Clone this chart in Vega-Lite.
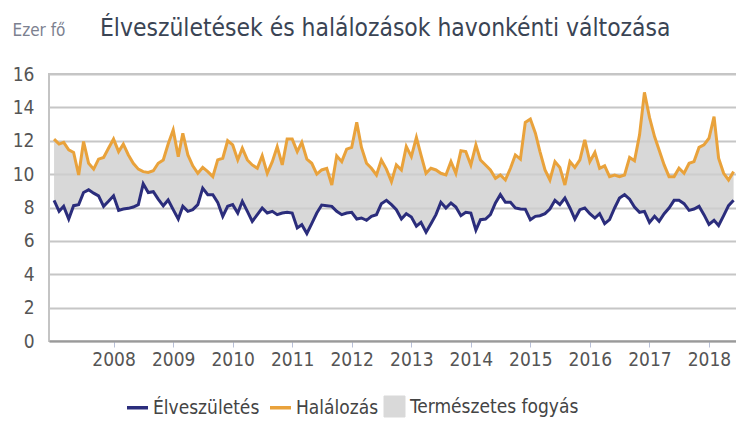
{
  "$schema": "https://vega.github.io/schema/vega-lite/v6.json",
  "width": 689,
  "height": 267,
  "autosize": "none",
  "padding": {"left": 49, "top": 74, "right": 0, "bottom": 85},
  "background": "white",
  "config": {
    "font": "DejaVu Sans Condensed, Liberation Sans Narrow, Roboto, sans-serif",
    "view": {"stroke": "#c4c4c4", "strokeWidth": 2},
    "axis": {"labelFont": "DejaVu Sans Condensed, Liberation Sans Narrow, Roboto, sans-serif", "labelColor": "#555555", "labelFontSize": 19}
  },
  "title": {
    "text": "Élveszületések és halálozások havonkénti változása",
    "anchor": "start",
    "dx": 88,
    "offset": 0,
    "dy": 20,
    "fontSize": 24.4,
    "fontWeight": "normal",
    "color": "#3a4454",
    "font": "DejaVu Sans Condensed, Liberation Sans Narrow, Roboto, sans-serif"
  },
  "data": {
    "values": [
      {"d":"2007-01-01","Élveszületés":8.43,"Halálozás":12.1},
      {"d":"2007-02-01","Élveszületés":7.77,"Halálozás":11.8},
      {"d":"2007-03-01","Élveszületés":8.07,"Halálozás":11.9},
      {"d":"2007-04-01","Élveszületés":7.31,"Halálozás":11.45},
      {"d":"2007-05-01","Élveszületés":8.11,"Halálozás":11.3},
      {"d":"2007-06-01","Élveszületés":8.17,"Halálozás":9.95},
      {"d":"2007-07-01","Élveszületés":8.9,"Halálozás":11.95},
      {"d":"2007-08-01","Élveszületés":9.06,"Halálozás":10.65},
      {"d":"2007-09-01","Élveszületés":8.86,"Halálozás":10.3},
      {"d":"2007-10-01","Élveszületés":8.7,"Halálozás":10.9},
      {"d":"2007-11-01","Élveszületés":8.07,"Halálozás":11.0},
      {"d":"2007-12-01","Élveszületés":8.37,"Halálozás":11.55},
      {"d":"2008-01-01","Élveszületés":8.7,"Halálozás":12.1},
      {"d":"2008-02-01","Élveszületés":7.83,"Halálozás":11.35},
      {"d":"2008-03-01","Élveszületés":7.91,"Halálozás":11.8},
      {"d":"2008-04-01","Élveszületés":7.95,"Halálozás":11.15},
      {"d":"2008-05-01","Élveszületés":8.03,"Halálozás":10.65},
      {"d":"2008-06-01","Élveszületés":8.17,"Halálozás":10.3},
      {"d":"2008-07-01","Élveszületés":9.42,"Halálozás":10.15},
      {"d":"2008-08-01","Élveszületés":8.9,"Halálozás":10.1},
      {"d":"2008-09-01","Élveszületés":8.95,"Halálozás":10.2},
      {"d":"2008-10-01","Élveszületés":8.5,"Halálozás":10.65},
      {"d":"2008-11-01","Élveszületés":8.1,"Halálozás":10.85},
      {"d":"2008-12-01","Élveszületés":8.45,"Halálozás":11.8},
      {"d":"2009-01-01","Élveszületés":7.87,"Halálozás":12.65},
      {"d":"2009-02-01","Élveszületés":7.31,"Halálozás":11.05},
      {"d":"2009-03-01","Élveszületés":8.07,"Halálozás":12.45},
      {"d":"2009-04-01","Élveszületés":7.77,"Halálozás":11.15},
      {"d":"2009-05-01","Élveszületés":7.87,"Halálozás":10.5},
      {"d":"2009-06-01","Élveszületés":8.17,"Halálozás":10.05},
      {"d":"2009-07-01","Élveszületés":9.16,"Halálozás":10.4},
      {"d":"2009-08-01","Élveszületés":8.77,"Halálozás":10.15},
      {"d":"2009-09-01","Élveszületés":8.77,"Halálozás":9.85},
      {"d":"2009-10-01","Élveszületés":8.31,"Halálozás":10.85},
      {"d":"2009-11-01","Élveszületés":7.47,"Halálozás":10.95},
      {"d":"2009-12-01","Élveszületés":8.07,"Halálozás":12.0},
      {"d":"2010-01-01","Élveszületés":8.17,"Halálozás":11.75},
      {"d":"2010-02-01","Élveszületés":7.67,"Halálozás":10.85},
      {"d":"2010-03-01","Élveszületés":8.37,"Halálozás":11.55},
      {"d":"2010-04-01","Élveszületés":7.77,"Halálozás":10.85},
      {"d":"2010-05-01","Élveszületés":7.17,"Halálozás":10.55},
      {"d":"2010-06-01","Élveszületés":7.57,"Halálozás":10.35},
      {"d":"2010-07-01","Élveszületés":7.97,"Halálozás":11.1},
      {"d":"2010-08-01","Élveszületés":7.67,"Halálozás":10.05},
      {"d":"2010-09-01","Élveszületés":7.77,"Halálozás":10.75},
      {"d":"2010-10-01","Élveszületés":7.57,"Halálozás":11.65},
      {"d":"2010-11-01","Élveszületés":7.67,"Halálozás":10.55},
      {"d":"2010-12-01","Élveszületés":7.71,"Halálozás":12.1},
      {"d":"2011-01-01","Élveszületés":7.67,"Halálozás":12.1},
      {"d":"2011-02-01","Élveszületés":6.78,"Halálozás":11.35},
      {"d":"2011-03-01","Élveszületés":6.97,"Halálozás":11.9},
      {"d":"2011-04-01","Élveszületés":6.44,"Halálozás":10.9},
      {"d":"2011-05-01","Élveszületés":7.03,"Halálozás":10.65},
      {"d":"2011-06-01","Élveszületés":7.67,"Halálozás":10.0},
      {"d":"2011-07-01","Élveszületés":8.15,"Halálozás":10.25},
      {"d":"2011-08-01","Élveszületés":8.11,"Halálozás":10.35},
      {"d":"2011-09-01","Élveszületés":8.07,"Halálozás":9.35},
      {"d":"2011-10-01","Élveszületés":7.77,"Halálozás":11.1},
      {"d":"2011-11-01","Élveszületés":7.57,"Halálozás":10.75},
      {"d":"2011-12-01","Élveszületés":7.67,"Halálozás":11.5},
      {"d":"2012-01-01","Élveszületés":7.71,"Halálozás":11.6},
      {"d":"2012-02-01","Élveszületés":7.31,"Halálozás":13.1},
      {"d":"2012-03-01","Élveszületés":7.37,"Halálozás":11.6},
      {"d":"2012-04-01","Élveszületés":7.23,"Halálozás":10.65},
      {"d":"2012-05-01","Élveszületés":7.47,"Halálozás":10.35},
      {"d":"2012-06-01","Élveszületés":7.57,"Halálozás":9.95},
      {"d":"2012-07-01","Élveszületés":8.23,"Halálozás":10.85},
      {"d":"2012-08-01","Élveszületés":8.43,"Halálozás":10.3},
      {"d":"2012-09-01","Élveszületés":8.17,"Halálozás":9.55},
      {"d":"2012-10-01","Élveszületés":7.87,"Halálozás":10.55},
      {"d":"2012-11-01","Élveszületés":7.31,"Halálozás":10.25},
      {"d":"2012-12-01","Élveszületés":7.63,"Halálozás":11.65},
      {"d":"2013-01-01","Élveszületés":7.43,"Halálozás":11.05},
      {"d":"2013-02-01","Élveszületés":6.88,"Halálozás":12.2},
      {"d":"2013-03-01","Élveszületés":7.11,"Halálozás":11.15},
      {"d":"2013-04-01","Élveszületés":6.52,"Halálozás":10.05},
      {"d":"2013-05-01","Élveszületés":7.03,"Halálozás":10.35},
      {"d":"2013-06-01","Élveszületés":7.57,"Halálozás":10.25},
      {"d":"2013-07-01","Élveszületés":8.31,"Halálozás":10.05},
      {"d":"2013-08-01","Élveszületés":7.97,"Halálozás":9.95},
      {"d":"2013-09-01","Élveszületés":8.27,"Halálozás":10.75},
      {"d":"2013-10-01","Élveszületés":8.03,"Halálozás":10.05},
      {"d":"2013-11-01","Élveszületés":7.51,"Halálozás":11.4},
      {"d":"2013-12-01","Élveszületés":7.71,"Halálozás":11.35},
      {"d":"2014-01-01","Élveszületés":7.67,"Halálozás":10.55},
      {"d":"2014-02-01","Élveszületés":6.64,"Halálozás":11.75},
      {"d":"2014-03-01","Élveszületés":7.27,"Halálozás":10.85},
      {"d":"2014-04-01","Élveszületés":7.31,"Halálozás":10.55},
      {"d":"2014-05-01","Élveszületés":7.57,"Halálozás":10.25},
      {"d":"2014-06-01","Élveszületés":8.27,"Halálozás":9.75},
      {"d":"2014-07-01","Élveszületés":8.77,"Halálozás":9.95},
      {"d":"2014-08-01","Élveszületés":8.31,"Halálozás":9.65},
      {"d":"2014-09-01","Élveszületés":8.31,"Halálozás":10.35},
      {"d":"2014-10-01","Élveszületés":7.97,"Halálozás":11.15},
      {"d":"2014-11-01","Élveszületés":7.91,"Halálozás":10.9},
      {"d":"2014-12-01","Élveszületés":7.9,"Halálozás":13.1},
      {"d":"2015-01-01","Élveszületés":7.27,"Halálozás":13.3},
      {"d":"2015-02-01","Élveszületés":7.47,"Halálozás":12.45},
      {"d":"2015-03-01","Élveszületés":7.51,"Halálozás":11.35},
      {"d":"2015-04-01","Élveszületés":7.63,"Halálozás":10.25},
      {"d":"2015-05-01","Élveszületés":7.91,"Halálozás":9.65},
      {"d":"2015-06-01","Élveszületés":8.43,"Halálozás":10.75},
      {"d":"2015-07-01","Élveszületés":8.17,"Halálozás":10.4},
      {"d":"2015-08-01","Élveszületés":8.57,"Halálozás":9.35},
      {"d":"2015-09-01","Élveszületés":7.97,"Halálozás":10.75},
      {"d":"2015-10-01","Élveszületés":7.31,"Halálozás":10.4},
      {"d":"2015-11-01","Élveszületés":7.87,"Halálozás":10.85},
      {"d":"2015-12-01","Élveszületés":7.97,"Halálozás":12.05},
      {"d":"2016-01-01","Élveszületés":7.63,"Halálozás":10.75},
      {"d":"2016-02-01","Élveszületés":7.37,"Halálozás":11.3},
      {"d":"2016-03-01","Élveszületés":7.63,"Halálozás":10.35},
      {"d":"2016-04-01","Élveszületés":7.03,"Halálozás":10.5},
      {"d":"2016-05-01","Élveszületés":7.27,"Halálozás":9.85},
      {"d":"2016-06-01","Élveszületés":7.97,"Halálozás":9.95},
      {"d":"2016-07-01","Élveszületés":8.57,"Halálozás":9.85},
      {"d":"2016-08-01","Élveszületés":8.77,"Halálozás":9.95},
      {"d":"2016-09-01","Élveszületés":8.5,"Halálozás":11.0},
      {"d":"2016-10-01","Élveszületés":8.03,"Halálozás":10.8},
      {"d":"2016-11-01","Élveszületés":7.71,"Halálozás":12.35},
      {"d":"2016-12-01","Élveszületés":7.77,"Halálozás":14.9},
      {"d":"2017-01-01","Élveszületés":7.11,"Halálozás":13.4},
      {"d":"2017-02-01","Élveszületés":7.47,"Halálozás":12.25},
      {"d":"2017-03-01","Élveszületés":7.17,"Halálozás":11.45},
      {"d":"2017-04-01","Élveszületés":7.63,"Halálozás":10.55},
      {"d":"2017-05-01","Élveszületés":7.97,"Halálozás":9.85},
      {"d":"2017-06-01","Élveszületés":8.43,"Halálozás":9.85},
      {"d":"2017-07-01","Élveszületés":8.43,"Halálozás":10.35},
      {"d":"2017-08-01","Élveszületés":8.23,"Halálozás":10.05},
      {"d":"2017-09-01","Élveszületés":7.83,"Halálozás":10.65},
      {"d":"2017-10-01","Élveszületés":7.91,"Halálozás":10.75},
      {"d":"2017-11-01","Élveszületés":8.07,"Halálozás":11.6},
      {"d":"2017-12-01","Élveszületés":7.57,"Halálozás":11.75},
      {"d":"2018-01-01","Élveszületés":6.98,"Halálozás":12.15},
      {"d":"2018-02-01","Élveszületés":7.23,"Halálozás":13.45},
      {"d":"2018-03-01","Élveszületés":6.92,"Halálozás":10.95},
      {"d":"2018-04-01","Élveszületés":7.51,"Halálozás":10.05},
      {"d":"2018-05-01","Élveszületés":8.11,"Halálozás":9.65},
      {"d":"2018-06-01","Élveszületés":8.43,"Halálozás":10.15}
    ]
  },
  "encoding": {
    "x": {
      "field": "d",
      "type": "temporal",
      "scale": {
        "type": "utc",
        "domain": [
          {"year": 2006, "month": 12, "date": 1, "utc": true},
          {"year": 2018, "month": 6, "date": 28, "utc": true}
        ]
      },
      "axis": {
        "title": null,
        "values": [
          {"year": 2008, "month": 1, "date": 1, "utc": true},
          {"year": 2009, "month": 1, "date": 1, "utc": true},
          {"year": 2010, "month": 1, "date": 1, "utc": true},
          {"year": 2011, "month": 1, "date": 1, "utc": true},
          {"year": 2012, "month": 1, "date": 1, "utc": true},
          {"year": 2013, "month": 1, "date": 1, "utc": true},
          {"year": 2014, "month": 1, "date": 1, "utc": true},
          {"year": 2015, "month": 1, "date": 1, "utc": true},
          {"year": 2016, "month": 1, "date": 1, "utc": true},
          {"year": 2017, "month": 1, "date": 1, "utc": true},
          {"year": 2018, "month": 1, "date": 1, "utc": true}
        ],
        "tickCount": 30,
        "format": "%Y",
        "formatType": "utc",
        "grid": false,
        "domainColor": "#9a9a9a",
        "domainWidth": 2,
        "tickColor": "#b8c0d8",
        "tickSize": 6,
        "tickWidth": 1,
        "labelPadding": 3,
        "labelFlush": false,
        "labelOverlap": false
      }
    }
  },
  "layer": [
    {
      "mark": {"type": "area", "color": "#cecece", "opacity": 0.8},
      "encoding": {
        "y": {
          "field": "Halálozás",
          "type": "quantitative",
          "scale": {"domain": [0, 16], "nice": false},
          "axis": {
            "title": "Ezer fő",
            "titleAngle": 0,
            "titleX": -37,
            "titleY": -44,
            "titleAlign": "left",
            "titleBaseline": "middle",
            "titleFontSize": 17,
            "titleFontWeight": "normal",
            "titleColor": "#7c8190",
            "titleFont": "DejaVu Sans Condensed, Liberation Sans Narrow, Roboto, sans-serif",
            "values": [0, 2, 4, 6, 8, 10, 12, 14, 16],
            "tickCount": 20,
            "labelOverlap": false,
            "gridColor": "#c6c6c6",
            "gridWidth": 2,
            "domain": false,
            "ticks": false,
            "labelPadding": 15
          }
        },
        "y2": {"field": "Élveszületés"}
      }
    },
    {
      "transform": [
        {"fold": ["Élveszületés", "Halálozás"], "as": ["series", "v"]}
      ],
      "mark": {"type": "line", "strokeWidth": 3, "interpolate": "linear"},
      "encoding": {
        "y": {
          "field": "v",
          "type": "quantitative",
          "axis": {
            "title": "Ezer fő",
            "titleAngle": 0,
            "titleX": -37,
            "titleY": -44,
            "titleAlign": "left",
            "titleBaseline": "middle",
            "titleFontSize": 17,
            "titleFontWeight": "normal",
            "titleColor": "#7c8190",
            "titleFont": "DejaVu Sans Condensed, Liberation Sans Narrow, Roboto, sans-serif",
            "values": [0, 2, 4, 6, 8, 10, 12, 14, 16],
            "tickCount": 20,
            "labelOverlap": false,
            "gridColor": "#c6c6c6",
            "gridWidth": 2,
            "domain": false,
            "ticks": false,
            "labelPadding": 15
          }
        },
        "color": {
          "field": "series",
          "type": "nominal",
          "scale": {
            "domain": ["Élveszületés", "Halálozás", "Természetes fogyás"],
            "range": ["#2b2d7c", "#e9a23b", "#d9d9d9"]
          },
          "legend": {
            "title": null,
            "orient": "none",
            "direction": "horizontal",
            "legendX": 79,
            "legendY": 323,
            "labelFontSize": 19,
            "labelLimit": 400,
            "labelColor": "#444444",
            "labelFont": "DejaVu Sans Condensed, Liberation Sans Narrow, Roboto, sans-serif",
            "symbolSize": 441,
            "labelOffset": 6,
            "columnPadding": 3,
            "encode": {
              "symbols": {
                "update": {
                  "shape": {"signal": "datum.value === 'Természetes fogyás' ? 'square' : 'stroke'"},
                  "fill": {"signal": "datum.value === 'Természetes fogyás' ? '#d9d9d9' : 'transparent'"},
                  "stroke": {"signal": "datum.value === 'Élveszületés' ? '#2b2d7c' : (datum.value === 'Halálozás' ? '#e9a23b' : '#c8c8c8')"},
                  "strokeWidth": {"signal": "datum.value === 'Természetes fogyás' ? 1 : 3.5"},
                  "opacity": {"value": 1}
                }
              }
            }
          }
        }
      }
    }
  ]
}
